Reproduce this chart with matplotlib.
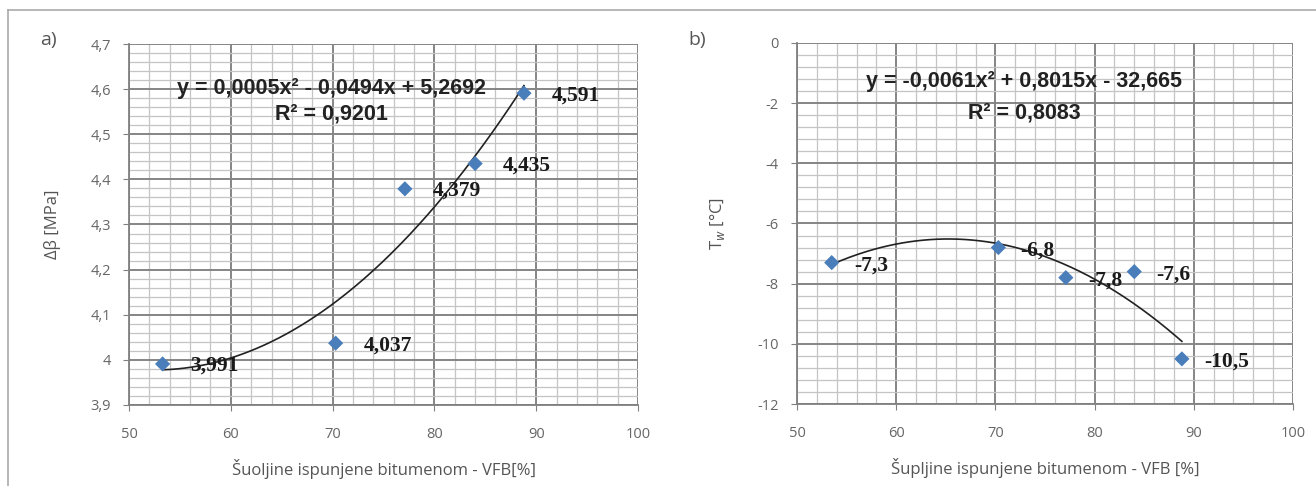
import numpy as np
import matplotlib
matplotlib.use("Agg")
import matplotlib.pyplot as plt
from matplotlib.ticker import MultipleLocator, FuncFormatter
from matplotlib.lines import Line2D

# data
vfb = [53.3, 70.3, 77.1, 84.0, 88.8]
delta_beta = [3.991, 4.037, 4.379, 4.435, 4.591]
vfb_b = [53.5, 70.3, 77.1, 84.0, 88.8]
t_fail = [-7.3, -6.8, -7.8, -7.6, -10.5]

lbl_a = ["3,991", "4,037", "4,379", "4,435", "4,591"]
lbl_b = ["-7,3", "-6,8", "-7,8", "-7,6", "-10,5"]

eq_a = ["y = 0,0005x² - 0,0494x + 5,2692", "R² = 0,9201"]
eq_b = ["y = -0,0061x² + 0,8015x - 32,665", "R² = 0,8083"]

W, H = 1316, 486
fig = plt.figure(figsize=(W / 100, H / 100), dpi=100)

tick_col = "#666666"
marker_col = "#4a7ebb"


def comma(v, pos):
    s = ("%g" % round(v, 2)).replace(".", ",")
    return s


def setup(ax, xlim, ylim, ymaj, ymin):
    ax.set_xlim(*xlim)
    ax.set_ylim(*ylim)
    ax.xaxis.set_major_locator(MultipleLocator(10))
    ax.xaxis.set_minor_locator(MultipleLocator(2))
    ax.yaxis.set_major_locator(MultipleLocator(ymaj))
    ax.yaxis.set_minor_locator(MultipleLocator(ymin))
    ax.yaxis.set_major_formatter(FuncFormatter(comma))
    ax.grid(which="major", color="#858585", lw=1.4)
    ax.grid(which="minor", color="#c4c4c4", lw=0.9)
    ax.set_axisbelow(True)
    for s in ["top", "right"]:
        ax.spines[s].set_visible(False)
    for s in ["left", "bottom"]:
        ax.spines[s].set_color("#808080")
        ax.spines[s].set_linewidth(1.3)
    ax.tick_params(which="major", length=4, color="#808080", labelcolor=tick_col,
                   labelsize=10.5)
    ax.tick_params(which="minor", length=0)
    ax.tick_params(axis="x", pad=12)
    ax.tick_params(axis="y", pad=9)
    for t in ax.get_xticklabels() + ax.get_yticklabels():
        t.set_family("Open Sans")


eq_style = dict(ha="center", va="center", fontsize=15.5, weight="bold",
                family="Liberation Sans", color="#222222")
lab_style = dict(va="center", ha="left", fontsize=15.5, weight="bold",
                 family="Liberation Serif", color="#1a1a1a", zorder=5)

# panel a
ax1 = fig.add_axes([129 / W, 1 - 405 / H, 509 / W, 361 / H])
setup(ax1, (50, 100), (3.9, 4.7), 0.1, 0.02)
c1 = np.polyfit(vfb, delta_beta, 2)
xs = np.linspace(min(vfb), max(vfb), 200)
ax1.plot(xs, np.polyval(c1, xs), color="#222222", lw=1.2, zorder=3)
ax1.scatter(vfb, delta_beta, marker="D", s=60, color=marker_col, zorder=4,
            edgecolors="none")
for x, y, t in zip(vfb, delta_beta, lbl_a):
    ax1.annotate(t, (x, y), xytext=(20, -1.5), textcoords="offset points",
                 **lab_style)
ax1.text(0.397, 0.878, eq_a[0], transform=ax1.transAxes, **eq_style)
ax1.text(0.397, 0.806, eq_a[1], transform=ax1.transAxes, **eq_style)
ax1.set_xlabel("Šuoljine ispunjene bitumenom - VFB[%]", fontsize=12,
               color="#555555", family="Open Sans", labelpad=12)
ax1.set_ylabel("Δβ [MPa]", fontsize=12, color="#555555", family="Open Sans",
               labelpad=21)

# panel b
ax2 = fig.add_axes([797 / W, 1 - 404 / H, 496 / W, 361 / H])
setup(ax2, (50, 100), (-12, 0), 2, 0.4)
c2 = np.polyfit(vfb_b, t_fail, 2)
xs2 = np.linspace(min(vfb_b), max(vfb_b), 200)
ax2.plot(xs2, np.polyval(c2, xs2), color="#222222", lw=1.2, zorder=3)
ax2.scatter(vfb_b, t_fail, marker="D", s=60, color=marker_col, zorder=4,
            edgecolors="none")
for x, y, t in zip(vfb_b, t_fail, lbl_b):
    ax2.annotate(t, (x, y), xytext=(16, -2), textcoords="offset points",
                 **lab_style)
ax2.text(0.458, 0.892, eq_b[0], transform=ax2.transAxes, **eq_style)
ax2.text(0.458, 0.806, eq_b[1], transform=ax2.transAxes, **eq_style)
ax2.set_xlabel("Šupljine ispunjene bitumenom - VFB [%]", fontsize=12,
               color="#555555", family="Open Sans", labelpad=12)
ax2.set_ylabel("T$_{w}$ [°C]", fontsize=12, color="#555555", family="Open Sans",
               labelpad=22)

# panel letters and frame
fig.text(48 / W, 1 - 40 / H, "a)", fontsize=14, color="#555555", family="Open Sans",
         ha="center", va="center")
fig.text(697 / W, 1 - 40 / H, "b)", fontsize=14, color="#555555", family="Open Sans",
         ha="center", va="center")
fig.add_artist(Line2D([8 / W, 1], [1 - 10 / H, 1 - 10 / H], color="#aaaaaa", lw=1.2))
fig.add_artist(Line2D([8 / W, 8 / W], [0, 1 - 10 / H], color="#aaaaaa", lw=1.2))

fig.savefig("out.png", dpi=100)
